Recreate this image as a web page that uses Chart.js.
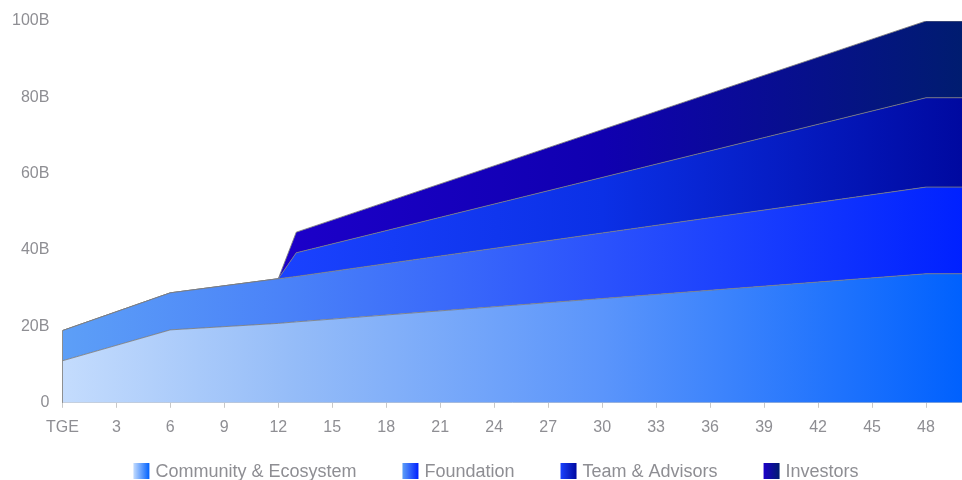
<!DOCTYPE html>
<html>
<head>
<meta charset="utf-8">
<script src="https://cdn.jsdelivr.net/npm/chart.js@4/dist/chart.umd.min.js"></script>
<style>
  body { margin: 0; background: #fff; }
  .chartBox { width: 962px; height: 480px; }
</style>
</head>
<body>
<div class="chartBox"><canvas id="chart"></canvas></div>
<script>
// months after TGE where the curves bend
const months = [0, 6, 12, 13, 48, 50];

// unlocked supply per allocation, in billions (stacked)
const community = [11.0, 19.1, 20.8, 21.2, 33.8, 33.8];
const foundation = [7.9, 9.7, 11.7, 11.9, 22.7, 22.7];
const team = [0, 0, 0, 6.2, 23.4, 23.4];
const investors = [0, 0, 0, 5.4, 20.1, 20.1];

const seriesNames = ['Community & Ecosystem', 'Foundation', 'Team & Advisors', 'Investors'];
const yTicks = [0, 20, 40, 60, 80, 100];

// horizontal gradient stops for each band
const stops = [
  [[0, '#c4dcfd'], [0.25, '#96bdf8'], [0.6, '#5b95fb'], [1, '#0061fe']],
  [[0, '#5d9ff7'], [0.25, '#4a82f8'], [0.6, '#2b52fc'], [1, '#0021ff']],
  [[0, '#1a42fe'], [0.25, '#1a42fe'], [0.6, '#0b30e6'], [1, '#0009a0']],
  [[0, '#1c00c9'], [0.25, '#1c00c9'], [0.6, '#1000b0'], [1, '#001c70']],
];

const textGrey = '#8e8e93';
const fontFamily = '"Liberation Sans", Arial, sans-serif';

function gradient(list) {
  return (context) => {
    const area = context.chart.chartArea;
    if (!area) return list[0][1];
    const g = context.chart.ctx.createLinearGradient(area.left, 0, area.right, 0);
    list.forEach(([o, c]) => g.addColorStop(o, c));
    return g;
  };
}

const toPoints = (values) => months.map((m, i) => ({ x: m, y: values[i] }));

// legend drawn by hand so the boxes can carry the gradient too
const gradientLegend = {
  id: 'gradientLegend',
  afterDraw(chart) {
    const ctx = chart.ctx;
    ctx.save();
    ctx.font = '18px ' + fontFamily;
    const box = 16;
    const gap = 6;
    const space = 46;
    const widths = seriesNames.map((n) => box + gap + ctx.measureText(n).width);
    const total = widths.reduce((a, b) => a + b, 0) + space * (widths.length - 1);
    let x = (chart.width - total) / 2 + 15;
    const top = chart.height - 17;
    seriesNames.forEach((name, i) => {
      const s = stops[i];
      const g = ctx.createLinearGradient(x, 0, x + box, 0);
      g.addColorStop(0, s[0][1]);
      g.addColorStop(1, s[s.length - 1][1]);
      ctx.fillStyle = g;
      ctx.fillRect(x, top, box, box);
      ctx.fillStyle = textGrey;
      ctx.textBaseline = 'middle';
      ctx.fillText(name, x + box + gap, top + box / 2 + 1);
      x += widths[i] + space;
    });
    ctx.restore();
  },
};

// thin edge on the left side of the stacked area at TGE
const leftEdge = {
  id: 'leftEdge',
  afterDatasetsDraw(chart) {
    const { x, y } = chart.scales;
    const topValue = community[0] + foundation[0] + team[0] + investors[0];
    const ctx = chart.ctx;
    ctx.save();
    ctx.strokeStyle = 'rgba(125,125,125,0.85)';
    ctx.lineWidth = 1;
    ctx.beginPath();
    const px = Math.round(x.getPixelForValue(months[0])) + 0.5;
    ctx.moveTo(px, y.getPixelForValue(0));
    ctx.lineTo(px, y.getPixelForValue(topValue));
    ctx.stroke();
    ctx.restore();
  },
};

const series = [community, foundation, team, investors];

new Chart(document.getElementById('chart'), {
  type: 'line',
  data: {
    datasets: series.map((values, i) => ({
      label: seriesNames[i],
      data: toPoints(values),
      backgroundColor: gradient(stops[i]),
      borderColor: 'rgba(125,125,125,0.85)',
      borderWidth: 1,
      pointRadius: 0,
      tension: 0,
      fill: i === 0 ? 'origin' : '-1',
    })),
  },
  options: {
    responsive: true,
    maintainAspectRatio: false,
    animation: false,
    layout: { padding: { top: 21, right: 0, bottom: 33, left: 7 } },
    plugins: {
      legend: { display: false },
      tooltip: { enabled: false },
    },
    scales: {
      x: {
        type: 'linear',
        min: 0,
        max: 50,
        grid: { drawOnChartArea: false, drawTicks: true, tickLength: 5, color: '#c8c8c8' },
        border: { display: true, color: '#c8c8c8' },
        ticks: {
          stepSize: 3,
          includeBounds: false,
          maxRotation: 0,
          autoSkip: false,
          padding: 10,
          color: textGrey,
          font: { family: fontFamily, size: 16 },
          callback: (v) => (v === 0 ? 'TGE' : v),
        },
      },
      y: {
        stacked: true,
        min: 0,
        max: 100,
        afterBuildTicks: (axis) => { axis.ticks = yTicks.map((v) => ({ value: v })); },
        grid: { display: false },
        border: { display: false },
        ticks: {
          padding: 5,
          color: textGrey,
          font: { family: fontFamily, size: 16 },
          callback: (v) => (v === 0 ? '0' : v + 'B'),
        },
      },
    },
  },
  plugins: [leftEdge, gradientLegend],
});
</script>
</body>
</html>
